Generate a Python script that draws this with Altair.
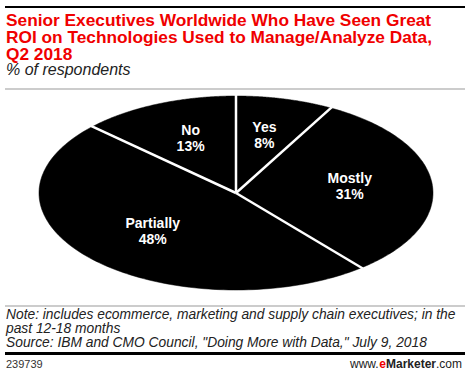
import altair as alt
import pandas as pd

# ---- data ----
categories = ["Yes", "Mostly", "Partially", "No"]
values = [8, 31, 48, 13]

title_lines = [
    "Senior Executives Worldwide Who Have Seen Great",
    "ROI on Technologies Used to Manage/Analyze Data,",
    "Q2 2018",
]
subtitle = "% of respondents"
note_lines = [
    "Note: includes ecommerce, marketing and supply chain executives; in the",
    "past 12-18 months",
    'Source: IBM and CMO Council, "Doing More with Data," July 9, 2018',
]
chart_id = "239739"
brand_parts = ["www.", "e", "Marketer", ".com"]

df = pd.DataFrame({"category": categories, "value": values,
                   "order": list(range(len(categories)))})

FONT = "Liberation Sans"
RED = "#f00000"
N = 120

xs = alt.Scale(domain=[-1, 1], range=[39, 433])
ys = alt.Scale(domain=[-1, 1], range=[290, 96])

base = alt.Chart(df).transform_joinaggregate(
    total="sum(value)"
).transform_window(
    cum="sum(value)", sort=[alt.SortField("order")], frame=[None, 0]
).transform_calculate(
    a0="2*PI*(datum.cum - datum.value)/datum.total",
    a1="2*PI*datum.cum/datum.total",
)

slices = base.transform_calculate(
    k=f"sequence(-1, {N + 1})"
).transform_flatten(["k"]).transform_calculate(
    ang=f"datum.a0 + (datum.a1 - datum.a0) * datum.k / {N}",
    px="datum.k < 0 ? 0 : sin(datum.ang)",
    py="datum.k < 0 ? 0 : cos(datum.ang)",
).mark_line(fill="black", stroke="black", strokeWidth=0.5).encode(
    x=alt.X("px:Q", scale=xs, axis=None),
    y=alt.Y("py:Q", scale=ys, axis=None),
    detail="category:N",
    order="k:Q",
)

spokes = base.transform_calculate(
    x0="0", y0="0", x1="1.01*sin(datum.a0)", y1="1.01*cos(datum.a0)"
).mark_rule(stroke="white", strokeWidth=2.5).encode(
    x=alt.X("x0:Q", scale=xs, axis=None),
    y=alt.Y("y0:Q", scale=ys, axis=None),
    x2="x1:Q",
    y2="y1:Q",
)

labels = base.transform_calculate(
    mid="(datum.a0 + datum.a1)/2",
    lx="0.58*sin(datum.mid)",
    ly="0.6*cos(datum.mid)",
    label="datum.category + '\\n' + datum.value + '%'",
).mark_text(
    color="white", font=FONT, fontSize=14, fontWeight="bold",
    lineBreak="\n", lineHeight=16, align="center", baseline="middle", dy=-9,
).encode(
    x=alt.X("lx:Q", scale=xs, axis=None),
    y=alt.Y("ly:Q", scale=ys, axis=None),
    text="label:N",
)

one = alt.Data(values=[{"a": 1}])


def txt(text, x, y, size, color="#222", weight="normal", style="normal",
        align="left"):
    return alt.Chart(one).mark_text(
        text=text, font=FONT, fontSize=size, color=color,
        fontWeight=weight, fontStyle=style, align=align,
        baseline="alphabetic",
    ).encode(x=alt.value(x), y=alt.value(y))


def hline(y, color, width):
    return alt.Chart(one).mark_rule(color=color, strokeWidth=width).encode(
        x=alt.value(5), x2=alt.value(465), y=alt.value(y))


layers = [slices, spokes, labels, hline(7, "black", 2)]
for i, line in enumerate(title_lines):
    layers.append(txt(line, 6, 26 + 17 * i, 17.3, color=RED, weight="bold"))
layers.append(txt(subtitle, 6, 75, 16, style="italic"))
layers.append(hline(89, "#999999", 1))
layers.append(hline(306, "#999999", 1))
for i, line in enumerate(note_lines):
    layers.append(txt(line, 6, 319 + 14.2 * i, 13.8, style="italic"))
layers += [
    hline(353.5, "black", 3),
    txt(chart_id, 6, 367.5, 11, color="#333"),
    txt(brand_parts[0], 350, 368, 12, color="#222"),
    txt(brand_parts[1], 379.3, 368, 12, color=RED, weight="bold"),
    txt(brand_parts[2], 386, 368, 12, color="#222", weight="bold"),
    txt(brand_parts[3], 436, 368, 12, color="#222"),
]

chart = alt.layer(*layers).properties(
    width=470, height=376, padding=0, autosize="none",
    background="white",
).configure_view(stroke=None)

chart.save("out.html", embed_options={"renderer": "svg", "actions": False})
